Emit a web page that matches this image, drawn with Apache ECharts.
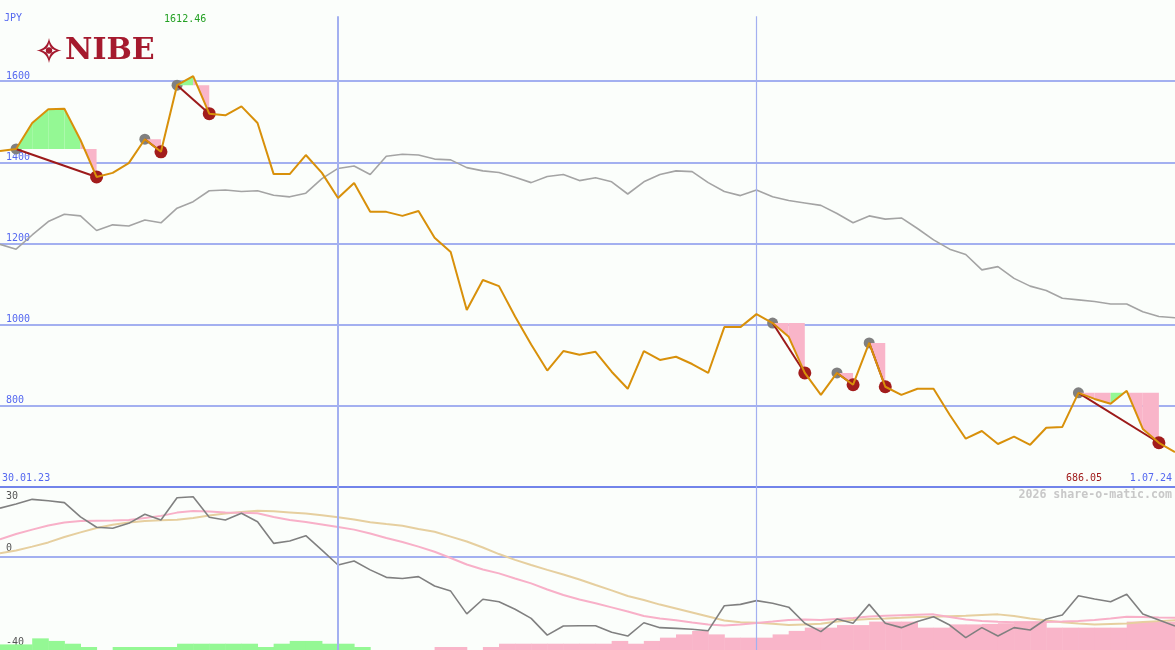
<!DOCTYPE html>
<html><head><meta charset="utf-8">
<script src="https://cdn.jsdelivr.net/npm/echarts@6/dist/echarts.min.js"></script>
<style>html,body{margin:0;padding:0;background:#fbfefb}#c{width:1175px;height:650px}</style>
</head><body><div id="c"></div>
<script>
// ---------- DATA ----------
// weekly dates (category axis)
const categories = [];
for (let k = 0; k < 74; k++) {
  const d = new Date(Date.UTC(2023, 1, 6 + 7 * k));
  categories.push(d.getUTCDate() + '.' + String(d.getUTCMonth() + 1).padStart(2, '0') + '.' + String(d.getUTCFullYear()).slice(2));
}
const tickLabels = ['3.07.23', '1.01.24'];
const rangeLabels = ['30.01.23', '1.07.24'];
const currency = 'JPY';

// NIBE share price (JPY)
const price = [1428,1433,1497,1531,1532,1455,1364,1374,1398,1457,1426,1590,1612.46,1520,1516,1538,1497,1371,1371,1418,
  1374,1312,1349,1278,1278,1268,1280,1214,1179,1036,1110,1095,1020,951,887,935,926,933,884,842,
  935,913,921,903,881,994,994,1026,1004,970,881,827,881,852,955,847,827,842,842,778,
  719,738,706,724,704,746,748,832,817,805,837,743,709,686.05];

// comparison index (scaled)
const benchmark = [1198,1186,1221,1254,1272,1268,1232,1246,1243,1258,1251,1287,1303,1330,1332,1328,1330,1319,1315,1324,
  1360,1385,1391,1370,1415,1420,1418,1408,1406,1387,1379,1375,1363,1350,1365,1370,1355,1362,1352,1322,
  1352,1370,1379,1377,1350,1328,1318,1332,1315,1306,1300,1294,1274,1251,1268,1260,1263,1237,1209,1186,
  1173,1135,1143,1114,1095,1084,1065,1061,1057,1051,1051,1032,1020,1017];

// signals: start / end indices (0-based)
const signalStarts = [1, 9, 11, 48, 52, 54, 67];
const signalEnds   = [6, 10, 13, 50, 53, 55, 72];

// lower panel
const momentum = [20.9,22.7,24.7,24.1,23.3,17.2,12.7,12.3,14.4,18.3,15.8,25.4,25.8,17.0,15.8,18.7,15.1,5.8,6.8,9.1,
  2.9,-3.5,-1.8,-5.6,-8.8,-9.3,-8.5,-12.5,-14.7,-24.5,-18.2,-19.3,-22.5,-26.4,-33.6,-29.7,-29.6,-29.6,-32.4,-34.0,
  -28.3,-30.4,-30.7,-31.1,-31.7,-21.0,-20.4,-18.8,-19.9,-21.6,-28.5,-32.1,-26.7,-28.5,-20.4,-28.5,-30.4,-27.8,-25.7,-29.3,
  -34.7,-30.4,-34.0,-30.4,-31.4,-26.7,-25.0,-16.7,-18.1,-19.3,-16.1,-24.5,-27.1,-29.7];
const avgFast = [7.5,9.8,11.7,13.5,14.8,15.4,15.5,15.6,15.8,16.7,17.6,19.0,19.7,19.5,19.1,18.9,18.7,17.1,15.8,15.0,
  13.9,12.8,11.7,10.0,8.1,6.4,4.4,2.2,-0.5,-3.3,-5.4,-7.1,-9.3,-11.4,-14.0,-16.4,-18.3,-19.9,-21.7,-23.5,
  -25.4,-26.5,-27.2,-28.2,-29.0,-29.5,-29.0,-28.4,-27.8,-27.1,-26.9,-27.1,-26.7,-26.3,-25.6,-25.3,-25.1,-24.9,-24.7,-25.8,
  -26.9,-27.5,-27.9,-28.1,-28.1,-28.0,-27.8,-27.5,-27.1,-26.5,-25.7,-25.8,-26.0,-26.1];
const avgSlow = [1.5,2.7,4.4,6.2,8.5,10.5,12.4,13.8,14.8,15.4,15.7,15.9,16.7,17.8,18.6,19.3,19.8,19.6,19.1,18.6,
  17.9,17.0,16.0,14.9,14.1,13.4,12.0,10.8,8.7,6.6,4.0,1.2,-1.3,-3.5,-5.6,-7.6,-9.7,-12.1,-14.4,-16.8,
  -18.5,-20.5,-22.2,-23.9,-25.6,-27.3,-28.1,-28.3,-28.7,-29.3,-29.0,-28.7,-27.8,-27.1,-26.7,-26.5,-26.2,-25.8,-25.7,-25.5,
  -25.3,-25.0,-24.7,-25.4,-26.5,-27.3,-28.1,-28.6,-29.0,-28.8,-28.6,-28.0,-27.6,-27.2];
const histogram = [2.4,2.4,5.0,3.9,2.7,1.3,0,1.3,1.3,1.3,1.3,2.7,2.7,2.7,2.7,2.7,1.3,2.7,3.9,3.9,
  2.7,2.7,1.3,0,0,0,0,-1.3,-1.3,0,-1.3,-2.7,-2.7,-2.7,-2.7,-2.7,-2.7,-2.7,-3.9,-2.7,
  -3.9,-5.3,-6.7,-8.2,-6.7,-5.3,-5.3,-5.3,-6.7,-8.2,-9.6,-9.6,-10.7,-10.7,-12.2,-12.2,-12.2,-9.6,-9.6,-11.0,
  -11.0,-11.2,-11.5,-12.2,-12.2,-9.6,-9.6,-9.6,-9.6,-9.6,-12.2,-12.2,-12.2,-12.2];

// ---------- STYLE ----------
const BG = '#fbfefb', BLUE = '#5568f0', GRID = '#a3b0f0', SEP = '#7284ea';
const ORANGE = '#d8900a', GREY = '#a4a4a4', GREEN = '#94f894', PINK = '#f9b5c9';
const DARKRED = '#a01c1c', LOGO = '#a51a2e', MONO = '"DejaVu Sans Mono", monospace';
const T = 'rgba(0,0,0,0)';

let maxIdx = 0; price.forEach((v, k) => { if (v > price[maxIdx]) maxIdx = k; });
const lastPrice = price[price.length - 1];
const idx = lbl => categories.indexOf(lbl);

// logo emblem: four-pointed star with concave sides (sampled quadratic curves)
function starPoints(cx, cy, R, c) {
  const tips = [[0, -R], [R, 0], [0, R], [-R, 0]];
  const ctrl = [[c, -c], [c, c], [-c, c], [-c, -c]];
  const pts = [];
  for (let k = 0; k < 4; k++) {
    const a = tips[k], b = tips[(k + 1) % 4], q = ctrl[k];
    for (let t = 0; t < 1; t += 0.125) {
      const x = (1 - t) * (1 - t) * a[0] + 2 * (1 - t) * t * q[0] + t * t * b[0];
      const y = (1 - t) * (1 - t) * a[1] + 2 * (1 - t) * t * q[1] + t * t * b[1];
      pts.push([cx + x, cy + y]);
    }
  }
  return pts;
}

const chart = echarts.init(document.getElementById('c'), null, {renderer: 'canvas'});

const vLines = (yTop, yBot) => tickLabels.map((l, k) => [
  {coord: [idx(l), yTop], lineStyle: {width: k === 0 ? 2 : 1.2, color: GRID, type: 'solid'}},
  {coord: [idx(l), yBot]}
]);

chart.setOption({
  animation: false,
  backgroundColor: BG,
  title: [
    {text: currency, left: 4, top: 13, padding: 0, textStyle: {color: BLUE, fontSize: 10, fontWeight: 'normal', fontFamily: MONO}},
    {text: rangeLabels[0], left: 2, top: 473, padding: 0, textStyle: {color: BLUE, fontSize: 10, fontWeight: 'normal', fontFamily: MONO}},
    {text: rangeLabels[1], right: 3, top: 473, padding: 0, textStyle: {color: BLUE, fontSize: 10, fontWeight: 'normal', fontFamily: MONO}},
    {text: lastPrice.toFixed(2), right: 73, top: 473, padding: 0, textStyle: {color: DARKRED, fontSize: 10, fontWeight: 'normal', fontFamily: MONO}},
    {text: '2026 share-o-matic.com', right: 3, top: 489, padding: 0, textStyle: {color: '#c8c8c8', fontSize: 11.6, fontWeight: 'bold', fontFamily: MONO}}
  ],
  graphic: [
    {type: 'polygon', shape: {points: starPoints(49, 50.5, 12.5, 1.8)}, style: {fill: LOGO}, z: 10},
    {type: 'polygon', shape: {points: starPoints(49, 50.5, 7.5, 1.1)}, style: {fill: BG}, z: 11},
    {type: 'circle', shape: {cx: 49, cy: 50.5, r: 3.2}, style: {fill: LOGO}, z: 12},
    {type: 'text', x: 65, y: 51, style: {text: 'NIBE', font: 'bold 30px "DejaVu Serif"', fill: LOGO, textVerticalAlign: 'middle'}, z: 12}
  ],
  grid: [
    {left: 0, right: 0, top: 0, height: 487},
    {left: 0, right: 0, top: 487, bottom: 0}
  ],
  xAxis: [
    {gridIndex: 0, type: 'category', data: categories, boundaryGap: false, position: 'top',
     axisLine: {show: false}, axisTick: {show: false}, splitLine: {show: false},
     axisLabel: {inside: true, margin: 4, color: BLUE, fontSize: 10, fontFamily: MONO, showMinLabel: false, showMaxLabel: false,
       interval: (i, v) => tickLabels.indexOf(v) >= 0}},
    {gridIndex: 1, type: 'category', data: categories, boundaryGap: false, show: false}
  ],
  yAxis: [
    {gridIndex: 0, type: 'value', min: 600, max: 1800, interval: 200, position: 'left',
     axisLine: {show: false}, axisTick: {show: false},
     axisLabel: {inside: true, margin: 6, verticalAlign: 'bottom', color: BLUE, fontSize: 10, fontFamily: MONO,
       formatter: v => (v > 600 && v < 1800) ? String(v) : ''},
     splitLine: {show: true, lineStyle: {width: 2, color: [SEP, GRID, GRID, GRID, GRID, GRID, T]}}},
    {gridIndex: 1, type: 'value', min: -40, max: 30, interval: 10, position: 'left',
     axisLine: {show: false}, axisTick: {show: false},
     axisLabel: {inside: true, margin: 6, verticalAlign: 'bottom', padding: [0, 0, 3, 0], color: '#555', fontSize: 10, fontFamily: MONO,
       formatter: v => (v === 0 || v === -40) ? String(v) : ''},
     splitLine: {show: true, lineStyle: {width: 2, color: [T, T, T, T, GRID, T, T, T]}}},
    {gridIndex: 1, type: 'value', min: -40, max: 30, interval: 10, position: 'left',
     axisLine: {show: false}, axisTick: {show: false}, splitLine: {show: false},
     axisLabel: {inside: true, margin: 6, verticalAlign: 'top', padding: [4, 0, 0, 0], color: '#555', fontSize: 10, fontFamily: MONO,
       formatter: v => v === 30 ? '30' : ''}}
  ],
  series: [
    {type: 'line', xAxisIndex: 0, yAxisIndex: 0, data: benchmark, symbol: 'none', z: 2,
     lineStyle: {color: GREY, width: 1.6}},
    {type: 'custom', xAxisIndex: 0, yAxisIndex: 0, z: 3, clip: true,
     data: signalStarts.map((s, k) => [s, signalEnds[k]]),
     renderItem: function (params, api) {
       const s = api.value(0), e = api.value(1);
       const L = price[s];
       const ch = [];
       const ps = api.coord([s, L]);
       ch.push({type: 'circle', shape: {cx: ps[0], cy: ps[1], r: 5.5}, style: {fill: '#808080'}});
       for (let j = s; j < e; j++) {
         const a0 = api.coord([j, L]), a1 = api.coord([j, price[j]]);
         const b1 = api.coord([j + 1, price[j + 1]]), b0 = api.coord([j + 1, L]);
         ch.push({type: 'polygon', shape: {points: [a0, a1, b1, b0]}, style: {fill: price[j + 1] >= L ? GREEN : PINK}});
       }
       const pe = api.coord([e, price[e]]);
       ch.push({type: 'line', shape: {x1: ps[0], y1: ps[1], x2: pe[0], y2: pe[1]}, style: {stroke: '#9c1a1a', lineWidth: 2}});
       ch.push({type: 'circle', shape: {cx: pe[0], cy: pe[1], r: 6.5}, style: {fill: '#a21c1c'}});
       return {type: 'group', children: ch};
     }},
    {type: 'line', xAxisIndex: 0, yAxisIndex: 0, data: price, symbol: 'none', z: 5,
     lineStyle: {color: ORANGE, width: 2},
     markPoint: {symbol: 'rect', symbolSize: 1, itemStyle: {color: T}, silent: true,
       label: {show: true, position: 'inside', offset: [-8, 0], color: '#23a023', fontSize: 10, fontFamily: MONO, formatter: p => p.value},
       data: [{coord: [maxIdx, 1751], value: price[maxIdx].toFixed(2)}]},
     markLine: {silent: true, symbol: 'none', label: {show: false}, data: vLines(1760, 600)}},
    {type: 'custom', xAxisIndex: 1, yAxisIndex: 1, z: 1, clip: true,
     data: histogram.map((v, k) => [k, v]),
     renderItem: function (params, api) {
       const i = api.value(0), v = api.value(1);
       if (!v) return null;
       const p0 = api.coord([i, -40]);
       const p1 = api.coord([i, -40 + Math.abs(v)]);
       const w = api.size([1, 0])[0];
       return {type: 'rect', shape: {x: p0[0], y: p1[1], width: w + 0.5, height: p0[1] - p1[1]}, style: {fill: v > 0 ? GREEN : PINK}};
     },
     markLine: {silent: true, symbol: 'none', label: {show: false}, data: vLines(30, -40)}},
    {type: 'line', xAxisIndex: 1, yAxisIndex: 1, data: avgSlow, symbol: 'none', z: 3,
     lineStyle: {color: '#e6cf9f', width: 2}},
    {type: 'line', xAxisIndex: 1, yAxisIndex: 1, data: avgFast, symbol: 'none', z: 3,
     lineStyle: {color: '#f8b0c8', width: 2}},
    {type: 'line', xAxisIndex: 1, yAxisIndex: 1, data: momentum, symbol: 'none', z: 4,
     lineStyle: {color: '#808080', width: 1.6}}
  ]
});
</script>
</body></html>
